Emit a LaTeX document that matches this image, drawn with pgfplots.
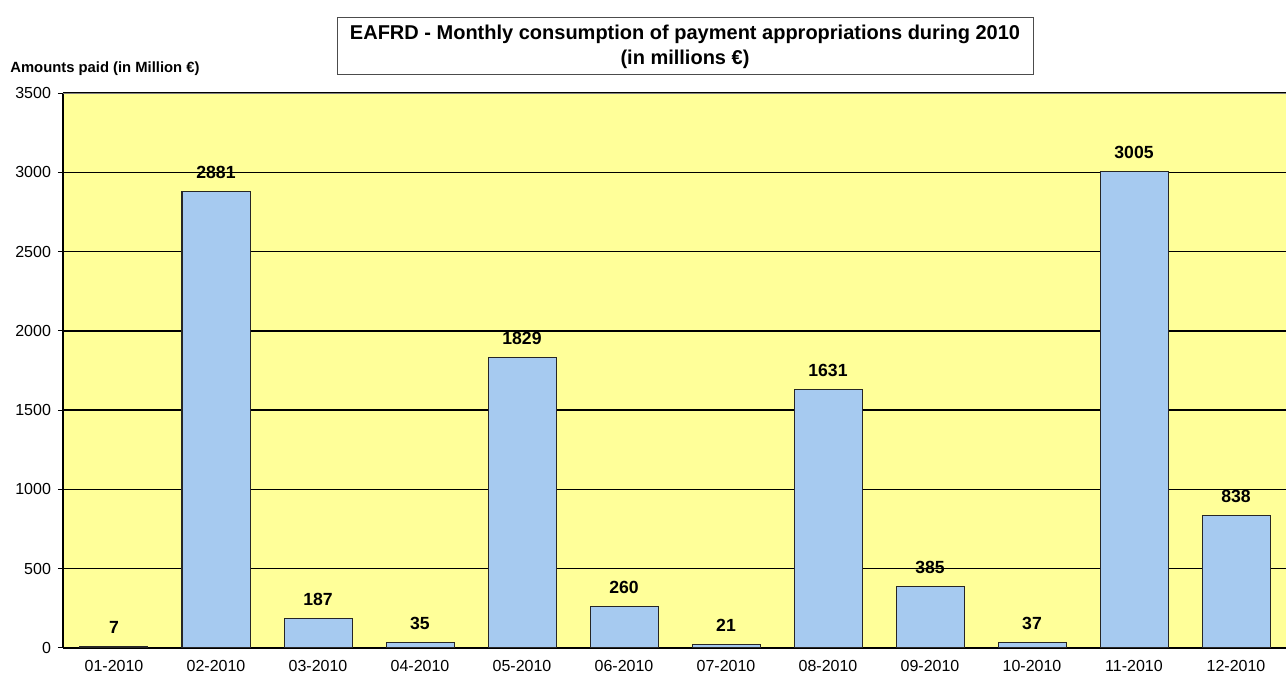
\documentclass[border=0pt]{standalone}
\usepackage{pgfplots}
\pgfplotsset{compat=1.18}
\usepackage{fontspec}
\setmainfont{Liberation Sans}
\definecolor{plotbg}{HTML}{FFFF99}
\definecolor{barfill}{HTML}{A6CAF0}
\begin{document}
\begin{tikzpicture}
\useasboundingbox (0,0) rectangle (643pt,337.5pt);
\begin{axis}[
  at={(31.5pt,13.5pt)}, anchor=south west,
  scale only axis,
  width=612pt, height=277.5pt,
  xmin=-0.5, xmax=11.5, ymin=0, ymax=3500,
  axis x line*=bottom, axis y line*=left,
  axis line style={-, black, line width=0.6pt},
  axis background/.style={fill=plotbg},
  ymajorgrids, grid style={black, line width=0.7pt},
  ytick={0,500,...,3500},
  xtick={0,...,11},
  xticklabels={01-2010,02-2010,03-2010,04-2010,05-2010,06-2010,07-2010,08-2010,09-2010,10-2010,11-2010,12-2010},
  major x tick style={draw=none},
  extra x ticks={0.5,1.5,...,10.5},
  extra x tick labels={},
  extra x tick style={tick style={black, line width=0.5pt}, major tick length=2.5pt, tick align=outside, grid=none},
  ytick style={black, line width=0.5pt},
  major tick length=2.5pt, tick align=outside,
  /pgf/number format/assume math mode=true,
  /pgf/number format/set thousands separator={},
  tick label style={font=\fontsize{8}{9}\selectfont},
  ybar, bar width=34pt,
  nodes near coords,
  every node near coord/.append style={font=\fontsize{8.8}{10}\selectfont\bfseries, anchor=base, inner sep=0pt, yshift=6.5pt},
]
\addplot[fill=barfill, draw=black!85, line width=0.5pt] coordinates {
(0,7) (1,2881) (2,187) (3,35) (4,1829) (5,260) (6,21) (7,1631) (8,385) (9,37) (10,3005) (11,838)};
\draw[gray, line width=0.6pt] (rel axis cs:0,1) -- (rel axis cs:1,1);
\end{axis}
\node[draw=black!70, line width=0.5pt, minimum width=348pt, minimum height=28.5pt, align=center, inner sep=0pt, font=\fontsize{10}{12.5}\selectfont\bfseries] at (342.5pt,314.25pt) {EAFRD - Monthly consumption of payment appropriations during 2010\\(in millions €)};
\node[anchor=west, inner sep=0pt, font=\fontsize{7.4}{8}\selectfont\bfseries] at (5pt,303pt) {Amounts paid (in Million €)};
\end{tikzpicture}
\end{document}
